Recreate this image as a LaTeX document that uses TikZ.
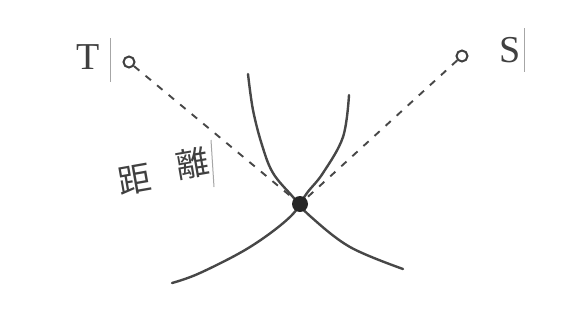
\documentclass[tikz,border=0pt]{standalone}
\usepackage{fontspec}
\newfontfamily\cjk{Noto Sans CJK JP}
\newfontfamily\lat{Liberation Serif}
\begin{document}
\begin{tikzpicture}[x=1pt,y=-1pt,
  ink/.style={draw=black!72,line width=2.4pt,line cap=round},
  dashline/.style={draw=black!72,line width=1.9pt,dash pattern=on 7pt off 8pt},
  endpt/.style={circle,draw=black!75,line width=2pt,minimum size=11pt,inner sep=0pt},
  lbl/.style={font=\lat\fontsize{38}{38}\selectfont,text=black!75,inner sep=0pt},
  cjklbl/.style={font=\cjk\fontsize{33}{33}\selectfont,text=black!75,inner sep=0pt},
  edge/.style={draw=black!35,line width=1pt}]
\useasboundingbox (0,0) rectangle (571,335);
\fill[white] (0,0) rectangle (571,335);
% labels
\node[lbl] (T) at (88,57) {T};
\node[lbl] (S) at (510,50) {S};
\draw[edge] (110,38) -- (110,82);
\draw[edge] (524,28) -- (524,72);
% end points
\node[endpt] (tc) at (129,62) {};
\node[endpt] (sc) at (462,56) {};
\coordinate (x) at (300,204);
% dashed distances
\draw[dashline] (tc) -- (x);
\draw[dashline] (sc) -- (x);
% curves
\draw[ink] plot[smooth,tension=0.6] coordinates {(248,74) (253,110) (262,145) (273,173) (293,197) (310,216) (350,247) (403,269)};
\draw[ink] plot[smooth,tension=0.6] coordinates {(349,95) (343,137) (323,173) (307,193) (290,217) (250,247) (200,273) (172,283)};
\fill[black!85] (x) circle (8pt) node (dot) {};
% CJK label
\node[cjklbl,rotate=10] (d1) at (135,180) {距};
\node[cjklbl,rotate=10] (d2) at (193,163) {離};
\draw[edge] (211,140) -- (214,187);
\end{tikzpicture}
\end{document}
